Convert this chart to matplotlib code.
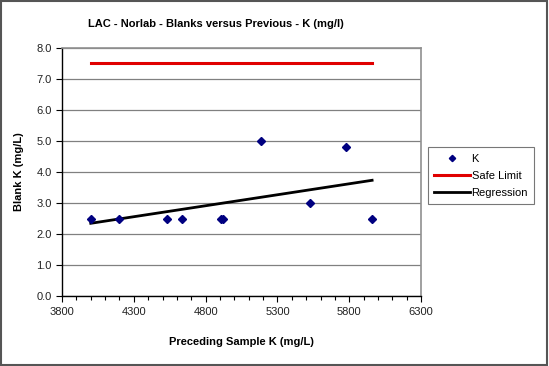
import numpy as np
import matplotlib
matplotlib.use("Agg")
import matplotlib.pyplot as plt
from matplotlib.patches import Rectangle
from matplotlib.ticker import MultipleLocator, FormatStrFormatter

plt.rcParams["font.family"] = ["Liberation Sans", "DejaVu Sans"]

# data
prev_k = [4000, 4200, 4533, 4638, 4905, 4923, 5188, 5525, 5780, 5959]
blank_k = [2.5, 2.5, 2.5, 2.5, 2.5, 2.5, 5.0, 3.0, 4.8, 2.5]
safe_limit = 7.5
x_ticks = [3800, 4300, 4800, 5300, 5800, 6300]

NAVY = "#000080"
RED = "#E00000"

fig = plt.figure(figsize=(5.49, 3.66), dpi=100)
fig.patches.append(Rectangle((0.002, 0.003), 0.995, 0.993, transform=fig.transFigure,
                             fill=False, edgecolor="#555555", lw=1.5))
ax = fig.add_axes([0.113, 0.191, 0.654, 0.678])

xs = np.array(prev_k, dtype=float)
ys = np.array(blank_k)
slope, icpt = np.polyfit(xs, ys, 1)
xr = np.array([xs.min(), xs.max()])

ax.grid(axis="y", color="#808080", lw=0.9)
ax.set_axisbelow(True)
ax.plot(xs, ys, "D", color=NAVY, ms=4, ls="none", label="K", zorder=4)
ax.plot(xr, [safe_limit, safe_limit], color=RED, lw=2.2, label="Safe Limit", zorder=3)
ax.plot(xr, slope * xr + icpt, color="black", lw=2.0, label="Regression", zorder=3)

ax.set_xlim(3800, 6300)
ax.set_ylim(0, 8)
ax.set_xticks(x_ticks)
ax.xaxis.set_minor_locator(MultipleLocator(100))
ax.yaxis.set_major_locator(MultipleLocator(1))
ax.yaxis.set_major_formatter(FormatStrFormatter("%.1f"))
ax.tick_params(axis="both", labelsize=8, direction="out", length=4, width=0.8,
               colors="black", labelcolor="#222222")
ax.tick_params(axis="x", which="minor", length=3, width=0.8)
for s in ("top", "right"):
    ax.spines[s].set_color("#909090")
    ax.spines[s].set_linewidth(1.2)
for s in ("left", "bottom"):
    ax.spines[s].set_color("black")
    ax.spines[s].set_linewidth(1.0)

fig.text(0.394, 0.934, "LAC - Norlab - Blanks versus Previous - K (mg/l)", fontsize=8,
         fontweight="bold", ha="center", va="center")
ax.set_xlabel("Preceding Sample K (mg/L)", fontsize=8, fontweight="bold", labelpad=15)
ax.set_ylabel("Blank K (mg/L)", fontsize=8, fontweight="bold", labelpad=9)

leg = fig.legend(loc="upper left", bbox_to_anchor=(0.779, 0.597), fontsize=8,
                 frameon=True, fancybox=False, edgecolor="#555555", markerscale=0.8,
                 handlelength=3.3, borderpad=0.55, labelspacing=0.65, handletextpad=0.1,
                 borderaxespad=0.0)
leg.get_frame().set_linewidth(0.8)

fig.savefig("out.png", dpi=100)
